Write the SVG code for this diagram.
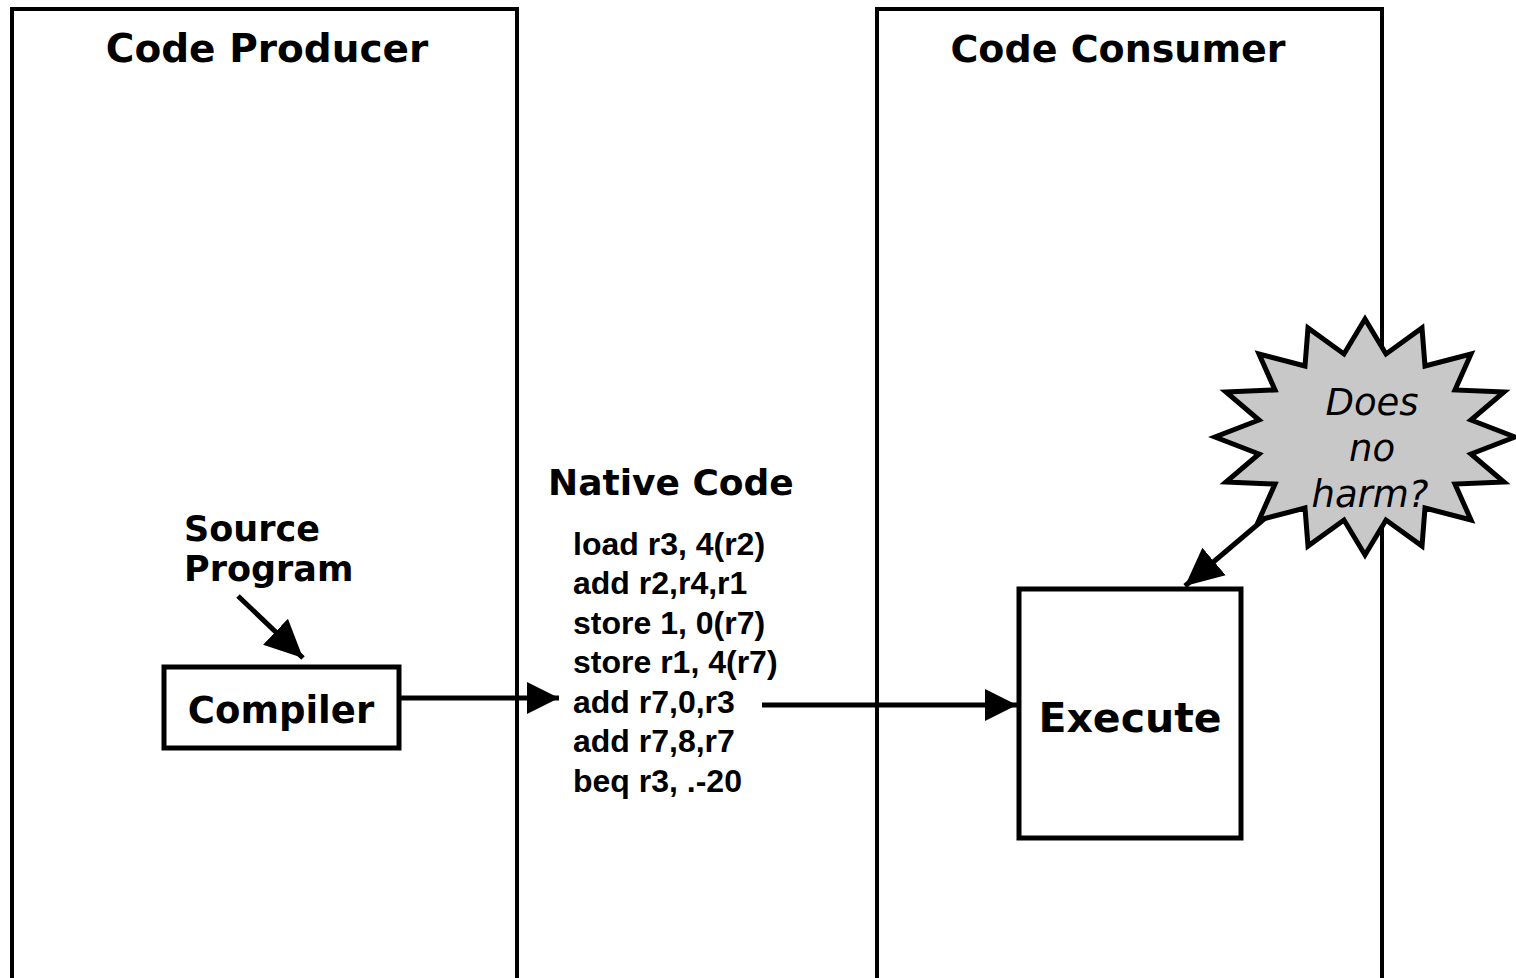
<svg xmlns="http://www.w3.org/2000/svg" width="1516" height="978" viewBox="0 0 1516 978">
<defs>
<style>
.panel{fill:none;stroke:#000;stroke-width:4}
.box{fill:#fff;stroke:#000;stroke-width:5}
.hand{font-family:"DejaVu Sans","Noto Sans",sans-serif;font-weight:bold;fill:#000}
.ital{font-family:"DejaVu Sans","Noto Sans",sans-serif;font-style:italic;font-size:37px;fill:#000}
.code{font-family:"Liberation Sans",Arial,sans-serif;font-weight:bold;font-size:32px;fill:#000}
.conn{stroke:#000;stroke-width:5;fill:none}
</style>
<marker id="ah" markerUnits="userSpaceOnUse" markerWidth="34" markerHeight="32" refX="32" refY="16" orient="auto">
<path d="M0,0 L32,16 L0,32 Z" fill="#000"/>
</marker>
<marker id="ahb" markerUnits="userSpaceOnUse" markerWidth="40" markerHeight="40" refX="38" refY="20" orient="auto">
<path d="M0,2 L38,20 L0,38 Z" fill="#000"/>
</marker>
</defs>
<rect width="1516" height="978" fill="#fff"/>
<g id="producer">
<path class="panel" d="M12,980 V9 H517 V980"/>
<text class="hand" x="267" y="62" font-size="39" text-anchor="middle">Code Producer</text>
</g>
<g id="consumer">
<path class="panel" d="M877,980 V9 H1382 V980"/>
<text class="hand" x="1118" y="62" font-size="38" text-anchor="middle">Code Consumer</text>
</g>
<g id="source">
<text class="hand" x="184" y="541" font-size="35">Source</text>
<text class="hand" x="184" y="581" font-size="35">Program</text>
</g>
<g id="compiler">
<rect class="box" x="164" y="667" width="235" height="81"/>
<text class="hand" x="281" y="723" font-size="37" text-anchor="middle">Compiler</text>
</g>
<g id="native">
<text class="hand" x="548" y="495" font-size="36">Native Code</text>
<text class="code" x="573" y="555">load r3, 4(r2)</text>
<text class="code" x="573" y="594">add r2,r4,r1</text>
<text class="code" x="573" y="634">store 1, 0(r7)</text>
<text class="code" x="573" y="673">store r1, 4(r7)</text>
<text class="code" x="573" y="713">add r7,0,r3</text>
<text class="code" x="573" y="752">add r7,8,r7</text>
<text class="code" x="573" y="792">beq r3, .-20</text>
</g>
<g id="execute">
<rect class="box" x="1019" y="589" width="222" height="249" stroke-width="6"/>
<text class="hand" x="1130" y="732" font-size="41" text-anchor="middle">Execute</text>
</g>
<g id="connectors">
<line class="conn" x1="238" y1="596" x2="303" y2="658" marker-end="url(#ahb)"/>
<line class="conn" x1="400" y1="698" x2="559" y2="698" marker-end="url(#ah)"/>
<line class="conn" x1="762" y1="705" x2="1017" y2="705" marker-end="url(#ah)"/>
<line class="conn" x1="1270" y1="514" x2="1185" y2="586" marker-end="url(#ahb)"/>
</g>
<g id="harm">
<polygon fill="#c8c8c8" stroke="#000" stroke-width="5" stroke-linejoin="miter" points="1365,319 1386,354 1422,328 1425,366 1471,354 1455,390 1504,392 1471,420 1515,437 1471,454 1504,482 1455,484 1471,520 1425,508 1422,546 1386,520 1365,555 1344,520 1308,546 1305,508 1259,520 1275,484 1226,482 1259,454 1215,437 1259,420 1226,392 1275,390 1259,354 1305,366 1308,328 1344,354"/>
<text class="ital" text-anchor="middle"><tspan x="1372" y="415">Does</tspan><tspan x="1372" y="461">no</tspan><tspan x="1370" y="507">harm?</tspan></text>
</g>
</svg>
